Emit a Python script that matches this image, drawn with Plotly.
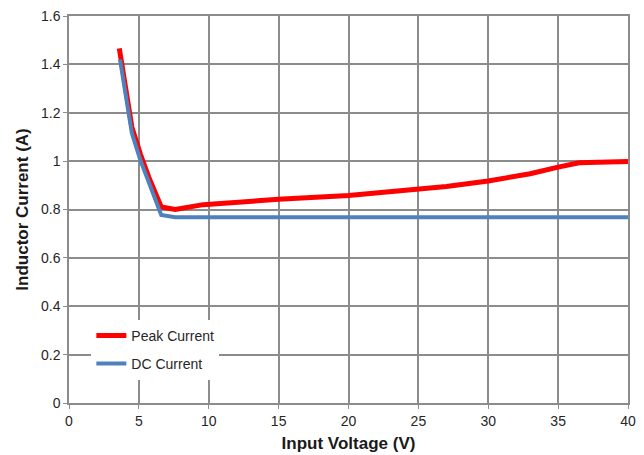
import plotly.graph_objects as go

peak_v = [3.6, 4.5, 5.1, 5.7, 6.6, 7.6, 9.6, 12, 15, 20, 24, 27, 30, 33, 35, 36.5, 40]
peak_i = [1.466, 1.14, 1.03, 0.935, 0.81, 0.80, 0.82, 0.832, 0.842, 0.858, 0.878, 0.895, 0.918, 0.948, 0.975, 0.993, 0.998]

dc_v = [3.65, 4.5, 5.1, 5.7, 6.6, 7.6, 40]
dc_i = [1.42, 1.115, 1.005, 0.915, 0.777, 0.768, 0.768]

x_ticks = [0, 5, 10, 15, 20, 25, 30, 35, 40]
y_ticks = [0, 0.2, 0.4, 0.6, 0.8, 1.0, 1.2, 1.4, 1.6]
y_labels = ["0", "0.2", "0.4", "0.6", "0.8", "1", "1.2", "1.4", "1.6"]

fig = go.Figure()
fig.add_trace(go.Scatter(x=peak_v, y=peak_i, mode="lines", name="Peak Current",
                         legendgroup="a",
                         line=dict(color="#FF0000", width=5)))
fig.add_trace(go.Scatter(x=dc_v, y=dc_i, mode="lines", name="DC Current",
                         legendgroup="b",
                         line=dict(color="#4F81BD", width=4)))

grid = "#8C8C8C"
fig.update_layout(
    width=636, height=447,
    margin=dict(l=61, r=16, t=8, b=52, autoexpand=False),
    paper_bgcolor="white", plot_bgcolor="white",
    font=dict(family="Liberation Sans, Arial, sans-serif", size=14, color="#262626"),
    showlegend=True,
    legend=dict(x=0.04, y=0.215, xanchor="left", yanchor="top",
                bgcolor="white", font=dict(size=14, color="#262626"),
                traceorder="grouped", tracegroupgap=7, itemwidth=30),
    xaxis=dict(range=[0, 40], tickvals=x_ticks, showgrid=True, gridcolor=grid, gridwidth=1.5,
               showline=True, linecolor=grid, linewidth=1.5, zeroline=False, automargin=False,
               ticks="outside", ticklen=4, tickcolor=grid, ticklabeloverflow="allow",
               title=dict(text="<b>Input Voltage (V)</b>", font=dict(size=17, color="#1a1a1a"), standoff=10)),
    yaxis=dict(range=[0, 1.6], tickvals=y_ticks, ticktext=y_labels, showgrid=True, gridcolor=grid, gridwidth=1.5,
               showline=True, linecolor=grid, linewidth=1.5, zeroline=False, automargin=False,
               ticks="outside", ticklen=4, tickcolor=grid, ticklabeloverflow="allow",
               title=dict(text="<b>Inductor Current (A)</b>", font=dict(size=17, color="#1a1a1a"), standoff=8)),
)
fig.update_xaxes(mirror=True)
fig.update_yaxes(mirror=True)
fig.write_html("out.html")
